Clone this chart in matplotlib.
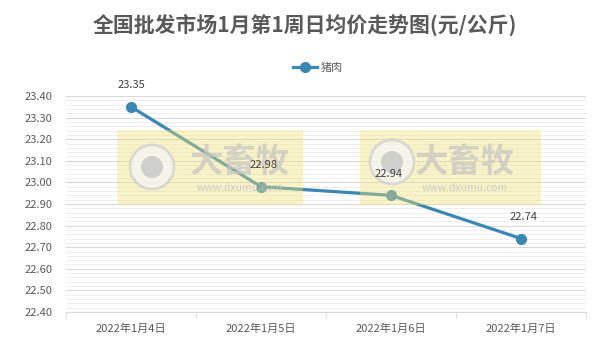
import numpy as np
import matplotlib
matplotlib.use('Agg')
import matplotlib.pyplot as plt
from matplotlib.patches import Rectangle, Circle
from matplotlib.ticker import MultipleLocator

plt.rcParams['font.family'] = ['Noto Sans CJK SC', 'DejaVu Sans']

dates = ['2022年1月4日', '2022年1月5日', '2022年1月6日', '2022年1月7日']
pork = [23.35, 22.98, 22.94, 22.74]
label_offsets = [(0, 12), (2, 12), (-2, 12), (2, 12)]

W, H = 609, 355
fig = plt.figure(figsize=(W / 100, H / 100), dpi=100)
ax = fig.add_axes([66 / W, 1 - 312 / H, 520 / W, 216 / H])

x = np.arange(len(dates))
line_col = '#3a87b3'
ax.plot(x, pork, color=line_col, lw=2.3, marker='o', ms=7, label='猪肉', zorder=3)
for xi, v, off in zip(x, pork, label_offsets):
    ax.annotate(f'{v:.2f}', (xi, v), xytext=off, textcoords='offset points',
                ha='center', va='bottom', fontsize=8, color='#404040', zorder=8)

ax.set_xlim(-0.5, len(dates) - 0.5)
ax.set_ylim(22.40, 23.40)
ax.yaxis.set_major_locator(MultipleLocator(0.1))
ax.yaxis.set_minor_locator(MultipleLocator(0.02))
ax.yaxis.set_major_formatter(matplotlib.ticker.FormatStrFormatter('%.2f'))
ax.set_xticks(x)
ax.set_xticklabels(dates)
ax.set_xticks(np.arange(len(dates) + 1) - 0.5, minor=True)
ax.grid(axis='y', which='major', color='#d9d9d9', lw=0.8)
ax.grid(axis='y', which='minor', color='#efefef', lw=0.7)
ax.set_axisbelow(True)
for s in ['top', 'right', 'left']:
    ax.spines[s].set_visible(False)
ax.spines['bottom'].set_color('#d9d9d9')
ax.tick_params(axis='y', which='both', length=0, labelsize=8, colors='#595959', pad=10)
ax.tick_params(axis='x', which='major', length=0, labelsize=8, colors='#595959', pad=8)
ax.tick_params(axis='x', which='minor', length=4, color='#d9d9d9')

fig.text(0.5, 1 - 25 / H, '全国批发市场1月第1周日均价走势图(元/公斤)', ha='center', va='center',
         fontsize=15, fontweight='bold', color='#595959')
leg = fig.legend(loc='center', bbox_to_anchor=(318 / W, 1 - 68 / H), frameon=False,
                 fontsize=8, handlelength=2.2, handletextpad=0.3)
for t in leg.get_texts():
    t.set_color('#595959')

# watermarks, drawn inside the axes so the value labels stay on top
ft = fig.transFigure
def px(xp, yp):
    return xp / W, 1 - yp / H

for (x0, x1, cx, cy, tx) in [(117, 303, 152, 167, 240), (360, 541, 392, 162, 465)]:
    ax.add_artist(Rectangle(px(x0, 205), (x1 - x0) / W, 75 / H, transform=ft, clip_on=False,
                            facecolor='#f2e27a', alpha=0.4, edgecolor='none', zorder=5))
    ax.add_artist(Circle((cx, H - cy), 22, transform=None, clip_on=False, facecolor='#f6f6f6',
                         edgecolor='#d0d0d0', lw=2, alpha=0.75, zorder=5))
    ax.add_artist(Circle((cx, H - cy), 11, transform=None, clip_on=False, facecolor='#c4c4c4',
                         edgecolor='none', alpha=0.75, zorder=5))
    ax.text(*px(tx, 162), '大畜牧', transform=ft, ha='center', va='center', fontsize=24,
            fontweight='bold', color='#c4c4c4', alpha=0.7, zorder=5)
    ax.text(*px(tx, 188), 'www.dxumu.com', transform=ft, ha='center', va='center',
            fontsize=7.5, color='#c4c4c4', alpha=0.8, zorder=5)

fig.savefig('out.png', dpi=100)
